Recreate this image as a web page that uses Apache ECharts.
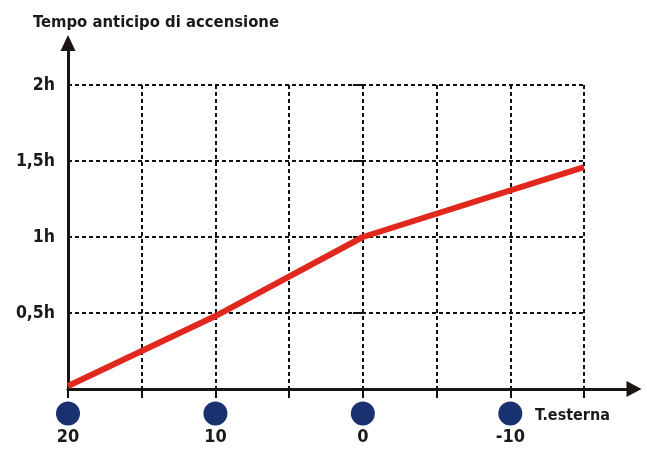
<!DOCTYPE html>
<html>
<head>
<meta charset="utf-8">
<script src="https://cdn.jsdelivr.net/npm/echarts@6/dist/echarts.min.js"></script>
<style>html,body{margin:0;padding:0;background:#fff}#c{width:647px;height:465px}</style>
</head>
<body>
<div id="c"></div>
<script>
const FONT = '"Liberation Sans Narrow", "DejaVu Sans Condensed", sans-serif';
const titleText = 'Tempo anticipo di accensione';
const xAxisName = 'T.esterna';
const tempX = [20, 10, 0, -15];
const anticipoH = [0.02, 0.48, 1.0, 1.46];
const markerTemps = [20, 10, 0, -10];
const yTickLabels = {0.5: '0,5h', 1: '1h', 1.5: '1,5h', 2: '2h'};

const chart = echarts.init(document.getElementById('c'));
const dash = {color: '#111', width: 2, type: [4, 3]};
const ink = '#1a1a1a';
chart.setOption({
  animation: false,
  title: {text: titleText, left: 33, top: 14, padding: 0,
    textStyle: {fontFamily: FONT, fontWeight: 'bold', fontSize: 16.5, color: ink}},
  grid: [
    {left: 68, right: 63, top: 85, bottom: 76},
    {left: 68, right: 13, top: 43, bottom: 76},
    {left: 68, right: 63, top: 401, bottom: 39}
  ],
  xAxis: [
    {gridIndex: 0, type: 'value', inverse: true, min: -15, max: 20, interval: 5,
      axisLine: {show: false}, axisLabel: {show: false},
      axisTick: {show: true, length: 9, inside: false, lineStyle: {color: '#111', width: 2}},
      splitLine: {show: true, lineStyle: dash}},
    {gridIndex: 1, type: 'value', min: 0, max: 1, position: 'bottom',
      axisLine: {show: true, symbol: ['none', 'triangle'], symbolSize: [16, 15], lineStyle: {color: '#1a1512', width: 3}},
      axisTick: {show: false}, axisLabel: {show: false}, splitLine: {show: false}},
    {gridIndex: 2, type: 'value', inverse: true, min: -15, max: 20, show: false}
  ],
  yAxis: [
    {gridIndex: 0, type: 'value', min: 0, max: 2, interval: 0.5,
      axisLine: {show: false},
      axisTick: {show: true, length: 10, lineStyle: dash},
      axisLabel: {margin: 13, fontFamily: FONT, fontWeight: 'bold', fontSize: 17.5, color: ink,
        formatter: v => yTickLabels[v] || ''},
      splitLine: {show: true, lineStyle: dash}},
    {gridIndex: 1, type: 'value', min: 0, max: 1,
      axisLine: {show: true, symbol: ['none', 'triangle'], symbolSize: [15, 16], lineStyle: {color: '#1a1512', width: 3}},
      axisTick: {show: false}, axisLabel: {show: false}, splitLine: {show: false}},
    {gridIndex: 2, type: 'value', min: 0, max: 1, show: false}
  ],
  series: [
    {type: 'line', xAxisIndex: 0, yAxisIndex: 0, symbol: 'none',
      data: tempX.map((t, i) => [t, anticipoH[i]]),
      lineStyle: {color: '#e0281e', width: 6}},
    {type: 'scatter', xAxisIndex: 2, yAxisIndex: 2, symbolSize: 24,
      itemStyle: {color: '#19326f', opacity: 1},
      data: markerTemps.map(t => [t, 0.5]),
      label: {show: true, position: 'bottom', distance: 3, fontFamily: FONT, fontWeight: 'bold',
        fontSize: 18, color: ink, formatter: p => String(p.value[0])}}
  ],
  graphic: [
    {type: 'text', left: 535, top: 408,
      style: {text: xAxisName, fontFamily: FONT, fontWeight: 'bold', fontSize: 16, fill: ink}}
  ]
});
</script>
</body>
</html>
